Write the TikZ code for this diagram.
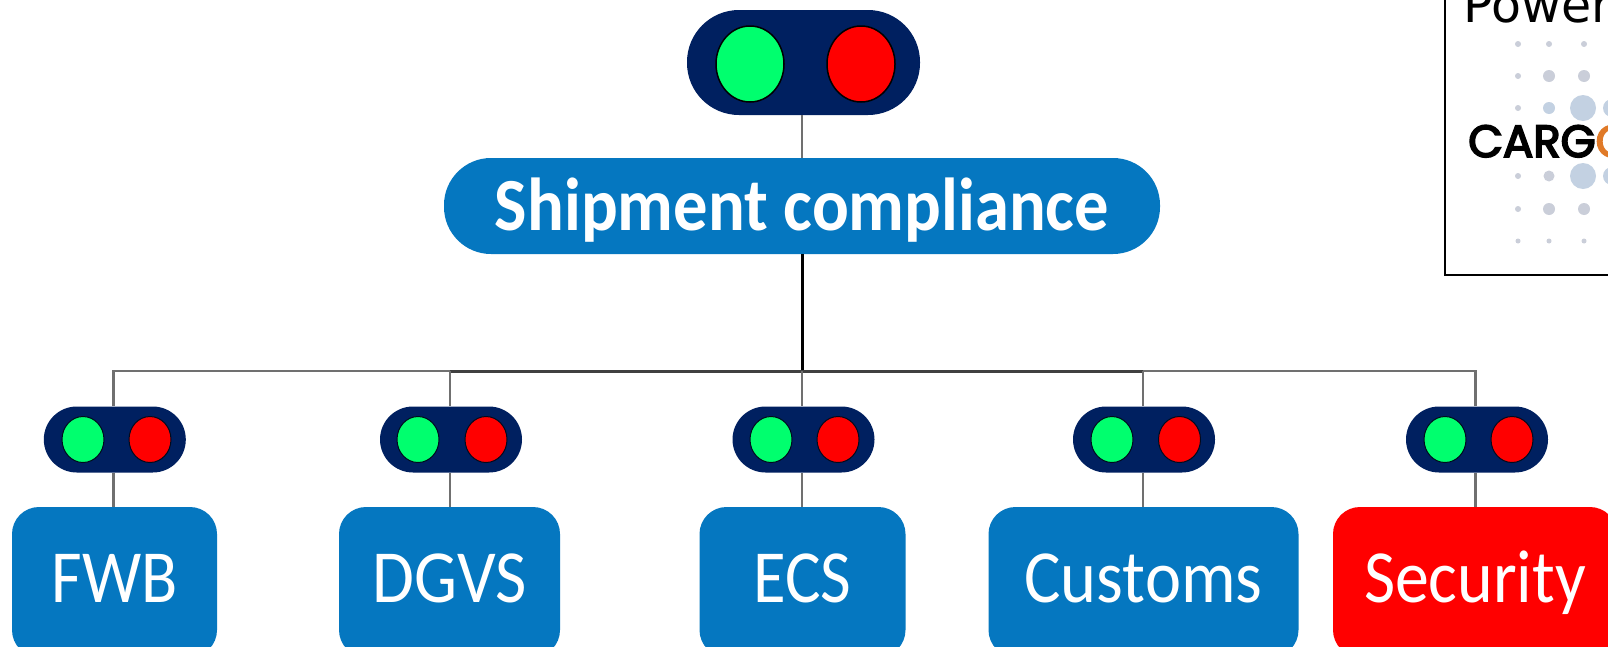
\documentclass[tikz,border=0pt]{standalone}
\usepackage{fontspec}
\usetikzlibrary{shapes.geometric}
\setmainfont{Carlito}
\newfontfamily\powerfont{DejaVu Sans}
\newfontfamily\logofont[FakeBold=4]{Poppins}
\definecolor{navy}{HTML}{002060}
\definecolor{lampgreen}{HTML}{00FF6E}
\definecolor{lampred}{HTML}{FF0000}
\definecolor{boxblue}{HTML}{0577C0}
\definecolor{wiregrey}{HTML}{707070}
\definecolor{dotblue}{HTML}{C3D1E2}
\definecolor{dotgrey}{HTML}{CACED9}
\definecolor{logoorange}{HTML}{E07A28}
\newcommand{\fit}[2]{\resizebox{#1pt}{\height}{\fontsize{75}{75}\selectfont #2}}
\tikzset{
  x=1pt,y=-1pt,
  bigpill/.style={rectangle,draw=none,fill=navy,minimum width=233pt,minimum height=105pt,inner sep=0pt,rounded corners=52pt},
  smallpill/.style={rectangle,draw=none,fill=navy,minimum width=142pt,minimum height=66pt,inner sep=0pt,rounded corners=33pt},
  biglamp/.style={ellipse,draw=black,line width=1.5pt,minimum width=68pt,minimum height=76pt,inner sep=0pt},
  smalllamp/.style={ellipse,draw=black!70!navy,line width=1pt,minimum width=42pt,minimum height=46pt,inner sep=0pt},
  titlebox/.style={rectangle,fill=boxblue,text=white,minimum width=716pt,minimum height=96pt,inner sep=0pt,rounded corners=47pt,text height=48pt,text depth=0pt,font=\bfseries},
  areabox/.style={rectangle,fill=boxblue,text=white,minimum height=150pt,inner sep=0pt,rounded corners=27pt,text height=48pt,text depth=8pt},
  wire/.style={draw=wiregrey,line width=2.5pt},
  darkwire/.style={draw=black!75,line width=3pt},
  trunk/.style={draw=black,line width=3pt},
}
\begin{document}
\begin{tikzpicture}
\useasboundingbox (0,0) rectangle (1608,646);
\clip (0,0) rectangle (1608,646);
\fill[white] (0,0) rectangle (1608,646);
% legend frame
\draw[black,line width=2pt] (1445,-5) -- (1445,275) -- (1615,275);
\node[anchor=base west,inner sep=0pt,font=\powerfont\fontsize{49}{49}\selectfont] (powertext) at (1463,22) {Power};
% logo dots
\foreach \px/\py/\pr/\pc in {
 1518/44/3/dotgrey,1549/44/3/dotgrey,1584/44/3/dotgrey,
 1518/76/3/dotgrey,1549/76/6/dotgrey,1584/76/6/dotgrey,
 1518/108/3/dotgrey,1549/108/6/dotblue,1583/108/13/dotblue,1612/108/9/dotblue,
 1518/176/3/dotgrey,1549/176/5.5/dotgrey,1583/176/13/dotblue,1612/176/9/dotblue,
 1518/209/3/dotgrey,1549/209/6/dotgrey,1584/209/6/dotgrey,
 1518/241/2.5/dotgrey,1549/241/2.5/dotgrey,1584/241/2.5/dotgrey}{
  \fill[\pc] (\px,\py) circle[radius=\pr];
}
\node[anchor=base west,inner sep=0pt,font=\logofont\fontsize{45}{45}\selectfont] (logotext) at (1468,157) {CARG\textcolor{logoorange}{O}};
% nodes
\node[bigpill] (top) at (803.5,62.5) {};
\node[biglamp,fill=lampgreen] (topg) at (750,64) {};
\node[biglamp,fill=lampred] (topr) at (861,64) {};
\node[titlebox] (ship) at (802,206) {\fit{614}{Shipment compliance}};
\coordinate (jc) at (802,371);
\coordinate (jl) at (450,371);
\coordinate (jr) at (1143,371);
\coordinate (jf) at (113.6,371);
\coordinate (js) at (1475.5,371);
\node[smallpill] (p1) at (114.8,439.5) {};
\node[smalllamp,fill=lampgreen] (p1g) at (83,439.5) {};
\node[smalllamp,fill=lampred] (p1r) at (150,439.5) {};
\node[smallpill] (p2) at (451,439.5) {};
\node[smalllamp,fill=lampgreen] (p2g) at (418,439.5) {};
\node[smalllamp,fill=lampred] (p2r) at (486,439.5) {};
\node[smallpill] (p3) at (803.5,439.5) {};
\node[smalllamp,fill=lampgreen] (p3g) at (771,439.5) {};
\node[smalllamp,fill=lampred] (p3r) at (838,439.5) {};
\node[smallpill] (p4) at (1144,439.5) {};
\node[smalllamp,fill=lampgreen] (p4g) at (1112,439.5) {};
\node[smalllamp,fill=lampred] (p4r) at (1179.5,439.5) {};
\node[smallpill] (p5) at (1477,439.5) {};
\node[smalllamp,fill=lampgreen] (p5g) at (1445,439.5) {};
\node[smalllamp,fill=lampred] (p5r) at (1512,439.5) {};
\node[areabox,minimum width=205pt] (b1) at (114.5,582) {\fit{126}{FWB}};
\node[areabox,minimum width=221pt] (b2) at (449.5,582) {\fit{154}{DGVS}};
\node[areabox,minimum width=206pt] (b3) at (802.5,582) {\fit{98}{ECS}};
\node[areabox,minimum width=310pt] (b4) at (1143.5,582) {\fit{238}{Customs}};
\node[areabox,minimum width=284pt,fill=lampred] (b5) at (1475,582) {\fit{222}{Security}};
% connectors
\draw[wire] (jc |- top.south) -- (jc |- ship.north);
\draw[trunk] (ship.south) -- (jc);
\draw[wire] (jf |- p1.north) -- (jf) -- (js) -- (js |- p5.north);
\draw[darkwire] (jl) -- (jr);
\draw[wire] (jl) -- (jl |- p2.north);
\draw[wire] (jc) -- (jc |- p3.north);
\draw[wire] (jr) -- (jr |- p4.north);
\draw[wire] (jf |- p1.south) -- (jf |- b1.north);
\draw[wire] (jl |- p2.south) -- (jl |- b2.north);
\draw[wire] (jc |- p3.south) -- (jc |- b3.north);
\draw[wire] (jr |- p4.south) -- (jr |- b4.north);
\draw[wire] (js |- p5.south) -- (js |- b5.north);
\end{tikzpicture}
\end{document}
